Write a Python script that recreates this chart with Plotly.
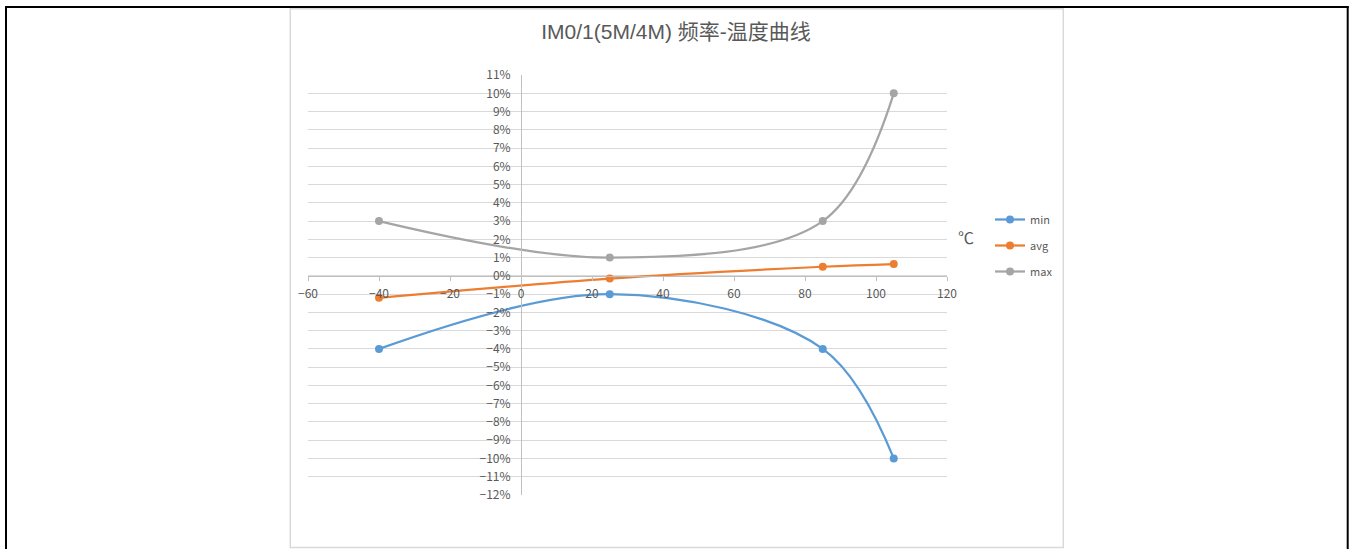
import plotly.graph_objects as go

# 温度点 (℃)
temps = [-40, 25, 85, 105]

# 频率偏差 (比例)
min_dev = [-0.04, -0.01, -0.04, -0.10]
avg_dev = [-0.012, -0.0015, 0.005, 0.0065]
max_dev = [0.03, 0.01, 0.03, 0.10]

series_names = ["min", "avg", "max"]
series_colors = ["#5B9BD5", "#ED7D31", "#A5A5A5"]

title_text = "IM0/1(5M/4M) 频率-温度曲线"
x_title_text = "℃"

FONT = "Noto Sans CJK SC"
TITLE_FONT = "Liberation Sans, Noto Sans CJK SC"
TEXT_COLOR = "#595959"
GRID_COLOR = "#d9d9d9"
AXIS_COLOR = "#bfbfbf"

W, H = 1355, 549
# プロット領域 (スクリーン座標)
L, R, T, B = 308, 947, 75, 495


def px_x(px: float) -> float:
    return (px - L) / (R - L)


def px_y(py: float) -> float:
    return (B - py) / (B - T)


def create_temp_curve_figure() -> go.Figure:
    """
    频率-温度曲线 (平滑折线) を作成する。
    """
    fig = go.Figure()

    for name, values, color in zip(series_names, [min_dev, avg_dev, max_dev], series_colors):
        fig.add_trace(
            go.Scatter(
                x=temps,
                y=values,
                mode="lines+markers",
                name=name,
                legendgroup=name,
                line=dict(color=color, width=2.25, shape="spline", smoothing=1.0),
                marker=dict(color=color, size=8),
            )
        )

    # 外枠 (黒線)
    black = dict(color="black", width=2)
    fig.add_shape(type="line", xref="paper", yref="paper",
                  x0=px_x(5), x1=px_x(1348.7), y0=px_y(7), y1=px_y(7), line=black)
    fig.add_shape(type="line", xref="paper", yref="paper",
                  x0=px_x(6), x1=px_x(6), y0=px_y(6), y1=px_y(560), line=black)
    fig.add_shape(type="line", xref="paper", yref="paper",
                  x0=px_x(1347.7), x1=px_x(1347.7), y0=px_y(6), y1=px_y(560), line=black)

    # グラフ領域の枠
    fig.add_shape(type="rect", xref="paper", yref="paper",
                  x0=px_x(290.3), x1=px_x(1063.3), y0=px_y(547.5), y1=px_y(8.7),
                  line=dict(color=GRID_COLOR, width=1.5), layer="below")

    fig.add_annotation(
        x=px_x(976), y=px_y(237), xref="paper", yref="paper",
        text=x_title_text, showarrow=False,
        font=dict(family=FONT, size=16, color=TEXT_COLOR),
    )

    fig.update_layout(
        width=W,
        height=H,
        margin=dict(l=L, r=W - R, t=T, b=H - B, pad=0),
        paper_bgcolor="white",
        plot_bgcolor="white",
        font=dict(family=FONT, size=12, color=TEXT_COLOR),
        title=dict(
            text=title_text,
            x=px_x(676), xref="paper", xanchor="center",
            y=1 - 32 / H, yref="container", yanchor="middle",
            font=dict(family=TITLE_FONT, size=21, color=TEXT_COLOR),
        ),
        showlegend=True,
        legend=dict(
            x=px_x(990), y=px_y(205), xanchor="left", yanchor="top",
            font=dict(family=FONT, size=11, color=TEXT_COLOR),
            tracegroupgap=7,
            bgcolor="rgba(0,0,0,0)",
        ),
        xaxis=dict(
            range=[-60, 120],
            dtick=20,
            tick0=-60,
            showgrid=False,
            zeroline=False,
            showline=True,
            linecolor=AXIS_COLOR,
            linewidth=1,
            ticks="outside",
            ticklen=4,
            tickcolor=AXIS_COLOR,
            ticklabelstandoff=3,
            anchor="free",
            position=12 / 23,
            tickfont=dict(family=FONT, size=12, color=TEXT_COLOR),
        ),
        yaxis=dict(
            range=[-0.12005, 0.11005],
            dtick=0.01,
            tick0=0,
            tickformat=".0%",
            showgrid=True,
            gridcolor=GRID_COLOR,
            gridwidth=1,
            zeroline=False,
            showline=True,
            linecolor=AXIS_COLOR,
            linewidth=1,
            ticks="outside",
            ticklen=5,
            tickcolor="rgba(0,0,0,0)",
            ticklabelstandoff=3,
            anchor="free",
            position=1 / 3,
            tickfont=dict(family=FONT, size=12, color=TEXT_COLOR),
        ),
    )

    return fig


fig = create_temp_curve_figure()
# ページ既定の余白を消して、図をウィンドウ左上に合わせる
fig.write_html(
    "out.html",
    config={"displayModeBar": False},
    post_script="document.body.style.margin = '0';",
)
